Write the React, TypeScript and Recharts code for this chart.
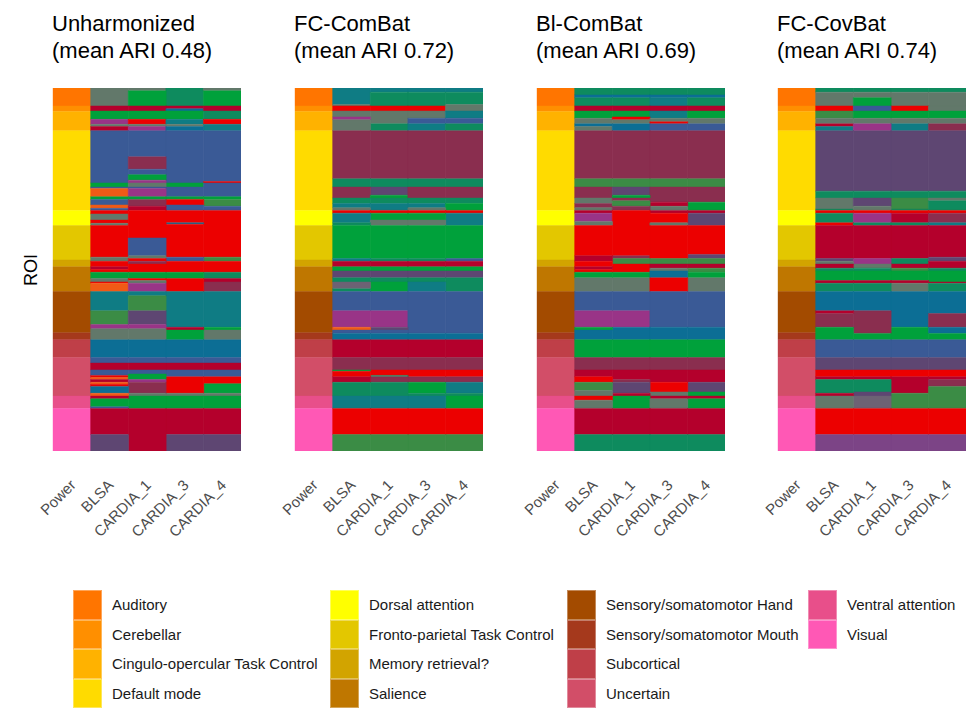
import { Bar, BarChart, Cell, XAxis, YAxis } from "recharts"

// [end ROI index, cluster key] — each segment runs from the previous end
type Seg = [number, string]

const COLUMNS = ["Power", "BLSA", "CARDIA_1", "CARDIA_3", "CARDIA_4"]

const NETWORKS = [
  "Auditory",
  "Cerebellar",
  "Cingulo-opercular Task Control",
  "Default mode",
  "Dorsal attention",
  "Fronto-parietal Task Control",
  "Memory retrieval?",
  "Salience",
  "Sensory/somatomotor Hand",
  "Sensory/somatomotor Mouth",
  "Subcortical",
  "Uncertain",
  "Ventral attention",
  "Visual",
]
const NETWORK_SIZES = [13, 4, 14, 58, 11, 25, 5, 18, 30, 5, 13, 28, 9, 31]
const NETWORK_COLORS = [
  "#FF7500", "#FF8F00", "#FFB200", "#FFDB00", "#FFFF00", "#E3C700", "#D2A400",
  "#BF7700", "#A34B00", "#A5391C", "#BF3F48", "#D24E68", "#E84F8A", "#FF58B5",
]

const CLUSTER: Record<string, string> = {
  G: "#00A13B",
  T: "#0E8B5E",
  OG: "#3B8C45",
  GG: "#62786A",
  MG: "#6D6274",
  M: "#8A2E4F",
  B: "#3A5A96",
  TB: "#0C6E95",
  TE: "#0F7C84",
  R: "#EC0000",
  C: "#B4002C",
  P: "#993487",
  DP: "#5E4672",
  V: "#7C4486",
  O: "#F05A16",
}

const TITLES = [
  ["Unharmonized", "(mean ARI 0.48)"],
  ["FC-ComBat", "(mean ARI 0.72)"],
  ["Bl-ComBat", "(mean ARI 0.69)"],
  ["FC-CovBat", "(mean ARI 0.74)"],
]

// Unharmonized
const unharmBLSA: Seg[] = [
  [13, "GG"], [16.7, "C"], [22.8, "G"], [26.4, "P"], [28, "GG"], [31, "C"], [69, "B"], [72, "G"],
  [73, "B"], [79, "O"], [81, "G"], [85, "B"], [87.5, "O"], [89, "B"], [91.6, "R"], [96, "GG"],
  [98.4, "R"], [100, "GG"], [123, "R"], [126, "GG"], [130, "R"], [132, "C"], [134, "R"],
  [138.5, "G"], [141, "GG"], [142, "R"], [148, "O"], [162, "TE"], [172, "OG"], [175, "P"],
  [183, "GG"], [196, "TB"], [200, "B"], [205, "C"], [209, "B"], [210.5, "R"], [212, "O"],
  [214, "C"], [215.5, "O"], [217, "R"], [222, "TB"], [224, "O"], [226, "C"], [231.8, "G"],
  [233, "B"], [252, "C"], [264, "DP"],
]
const unharmC1: Seg[] = [
  [2, "GG"], [13, "G"], [16.7, "C"], [22.8, "G"], [26.4, "R"], [28, "GG"], [31, "P"], [50, "B"],
  [59, "M"], [63, "B"], [67, "G"], [69, "P"], [72, "GG"], [73, "B"], [79, "P"], [81, "G"],
  [86, "M"], [89, "C"], [109, "R"], [122, "B"], [124, "GG"], [126, "R"], [128, "M"], [134, "R"],
  [138.5, "G"], [140, "R"], [142, "GG"], [148, "P"], [151, "TE"], [162, "OG"], [172, "DP"],
  [175, "P"], [183, "GG"], [196, "TB"], [200, "B"], [205, "C"], [208, "B"], [212, "G"],
  [214, "P"], [222, "M"], [224, "GG"], [233, "G"], [264, "C"],
]
const unharmC3: Seg[] = [
  [13, "T"], [15, "C"], [16.7, "TB"], [22.8, "G"], [26.4, "TE"], [28, "GG"], [31, "TB"], [69, "B"],
  [72, "G"], [79, "B"], [81, "G"], [85, "R"], [89, "B"], [98, "R"], [99, "TB"], [123, "R"],
  [126, "B"], [134, "R"], [138.5, "G"], [148, "R"], [174, "TE"], [176, "C"], [183, "G"],
  [196, "TB"], [200, "B"], [205, "C"], [210, "B"], [222, "R"], [224, "GG"], [233, "G"],
  [252, "C"], [264, "DP"],
]
const unharmC4: Seg[] = [
  [2, "GG"], [13, "G"], [16.7, "C"], [22.8, "T"], [26.4, "R"], [31, "TE"], [68, "B"], [69, "R"],
  [79, "B"], [81, "G"], [86, "OG"], [89, "B"], [123, "R"], [126, "OG"], [134, "R"], [138.5, "T"],
  [141, "C"], [148, "M"], [174, "TE"], [176, "G"], [183, "GG"], [196, "TB"], [200, "B"],
  [205, "C"], [210, "B"], [215, "R"], [222, "G"], [224, "GG"], [233, "G"], [252, "C"], [264, "DP"],
]

// FC-ComBat
const fcComBLSA: Seg[] = [
  [12, "TE"], [13, "GG"], [16.7, "R"], [21, "GG"], [23, "P"], [31, "GG"], [66, "M"], [72, "T"],
  [80, "M"], [84, "T"], [87, "TE"], [89, "GG"], [91, "R"], [98, "TE"], [100, "T"], [124, "G"],
  [126, "TE"], [130, "C"], [133, "G"], [138, "DP"], [141, "T"], [146, "MG"], [148, "T"],
  [162, "B"], [174, "P"], [176, "O"], [178.5, "B"], [183, "TB"], [196, "C"], [205, "M"],
  [206, "G"], [210, "R"], [214, "C"], [224, "T"], [233, "TE"], [252, "R"], [264, "OG"],
]
const fcComC1: Seg[] = [
  [3, "TE"], [13, "T"], [16.7, "R"], [26, "GG"], [31, "T"], [66, "M"], [72, "T"], [78, "DP"],
  [80, "G"], [84, "T"], [89, "TE"], [91, "R"], [96, "G"], [100, "GG"], [124, "G"], [126, "T"],
  [130, "C"], [133, "G"], [138, "DP"], [141, "T"], [148, "G"], [162, "B"], [174, "P"],
  [176, "DP"], [178.5, "B"], [183, "TB"], [196, "C"], [205, "M"], [209, "R"], [210, "T"],
  [214, "M"], [224, "T"], [233, "TE"], [252, "R"], [264, "OG"],
]
const fcComC3: Seg[] = [
  [3, "TE"], [13, "T"], [16.7, "R"], [22, "GG"], [26, "B"], [31, "TE"], [66, "M"], [72, "T"],
  [80, "M"], [84, "T"], [87, "TE"], [89, "GG"], [91, "R"], [96, "G"], [100, "GG"], [124, "G"],
  [126, "T"], [130, "C"], [133, "G"], [138, "DP"], [141, "T"], [148, "TE"], [178.5, "B"],
  [183, "TB"], [196, "C"], [205, "M"], [210, "R"], [214, "M"], [222, "G"], [224, "T"],
  [233, "TE"], [252, "R"], [264, "OG"],
]
const fcComC4: Seg[] = [
  [3, "TE"], [12, "T"], [16.7, "GG"], [22, "TE"], [26, "B"], [31, "T"], [66, "M"], [72, "T"],
  [80, "M"], [84, "T"], [89, "G"], [91, "R"], [100, "TE"], [124, "G"], [126, "B"], [130, "C"],
  [133, "G"], [138, "DP"], [148, "T"], [178.5, "B"], [183, "TB"], [196, "C"], [205, "M"],
  [210, "R"], [214, "M"], [222, "TE"], [224, "T"], [233, "G"], [252, "R"], [264, "OG"],
]

// Bl-ComBat
const blComBLSA: Seg[] = [
  [5, "T"], [7, "TB"], [13, "T"], [16.7, "C"], [22, "G"], [26, "GG"], [28, "TB"], [31, "GG"],
  [66, "M"], [72, "OG"], [80, "M"], [84, "GG"], [87, "M"], [89, "GG"], [91, "C"], [97, "P"],
  [100, "GG"], [122, "R"], [126, "C"], [130, "R"], [132, "C"], [134, "R"], [138, "G"],
  [148, "GG"], [162, "B"], [174, "P"], [176, "G"], [183, "TB"], [196, "G"], [205, "M"],
  [210, "C"], [214, "R"], [220, "OG"], [224, "GG"], [227, "R"], [233, "GG"], [252, "C"], [264, "T"],
]
const blComC1: Seg[] = [
  [5, "T"], [7, "TB"], [13, "T"], [16.7, "C"], [21, "G"], [23, "R"], [26, "GG"], [31, "TB"],
  [66, "M"], [72, "OG"], [78, "DP"], [80, "G"], [82, "M"], [86, "OG"], [89, "M"], [122, "R"],
  [124, "M"], [128, "OG"], [134, "R"], [138, "G"], [148, "GG"], [162, "B"], [174, "P"],
  [183, "TB"], [196, "G"], [205, "M"], [212, "C"], [214, "M"], [222, "DP"], [224, "C"],
  [233, "G"], [252, "C"], [264, "T"],
]
const blComC3: Seg[] = [
  [5, "T"], [7, "TB"], [13, "TE"], [16.7, "C"], [22, "TE"], [24.5, "GG"], [26, "R"], [31, "B"],
  [66, "M"], [72, "OG"], [83, "M"], [86, "C"], [89, "GG"], [91, "C"], [98, "R"], [100, "GG"],
  [124, "R"], [128, "OG"], [131, "C"], [133, "GG"], [138, "TB"], [148, "R"], [174, "B"],
  [183, "TB"], [196, "G"], [205, "M"], [214, "C"], [221, "R"], [224, "GG"], [226, "C"],
  [233, "GG"], [252, "C"], [264, "T"],
]
const blComC4: Seg[] = [
  [5, "T"], [7, "TB"], [13, "T"], [16.7, "C"], [22, "G"], [26, "GG"], [31, "B"], [66, "M"],
  [72, "OG"], [83, "M"], [89, "G"], [91, "C"], [100, "DP"], [121, "R"], [124, "DP"], [128, "OG"],
  [131, "C"], [134, "OG"], [138, "G"], [148, "GG"], [174, "B"], [183, "TB"], [196, "G"],
  [205, "M"], [214, "C"], [221, "DP"], [224, "G"], [226, "C"], [233, "G"], [252, "C"], [264, "T"],
]

// FC-CovBat
const fcCovBLSA: Seg[] = [
  [3, "T"], [13, "GG"], [16.7, "R"], [22, "OG"], [26, "GG"], [28, "C"], [31, "TE"], [75, "DP"],
  [80, "T"], [88, "GG"], [89, "T"], [91, "R"], [98, "T"], [100, "R"], [124, "C"], [126, "DP"],
  [128, "GG"], [131, "C"], [133, "T"], [140, "G"], [142, "C"], [148, "T"], [162, "TB"],
  [164, "C"], [174, "M"], [183, "G"], [196, "B"], [205, "DP"], [210, "R"], [212, "C"],
  [222, "T"], [224, "C"], [233, "GG"], [252, "R"], [264, "V"],
]
const fcCovC1: Seg[] = [
  [3, "T"], [7, "GG"], [13, "G"], [16.7, "B"], [22, "G"], [26, "GG"], [31, "P"], [75, "DP"],
  [80, "T"], [86, "DP"], [89, "GG"], [91, "R"], [98, "P"], [100, "T"], [124, "C"], [128, "P"],
  [131, "GG"], [133, "T"], [140, "G"], [142, "C"], [148, "T"], [162, "TB"], [178.5, "M"],
  [183, "G"], [196, "B"], [205, "DP"], [210, "R"], [212, "C"], [221, "T"], [224, "DP"],
  [233, "MG"], [252, "R"], [264, "V"],
]
const fcCovC3: Seg[] = [
  [3, "T"], [13, "GG"], [16.7, "R"], [22, "G"], [26, "GG"], [31, "TE"], [75, "DP"], [80, "T"],
  [88, "OG"], [89, "T"], [91, "R"], [98, "C"], [100, "T"], [124, "C"], [128, "T"], [131, "C"],
  [133, "OG"], [140, "G"], [142, "C"], [148, "GG"], [174, "TB"], [183, "G"], [196, "B"],
  [205, "DP"], [210, "R"], [222, "C"], [233, "OG"], [252, "R"], [264, "V"],
]
const fcCovC4: Seg[] = [
  [3, "T"], [13, "GG"], [16.7, "GG"], [22, "G"], [26, "GG"], [31, "M"], [75, "DP"], [80, "T"],
  [82, "GG"], [89, "T"], [91, "R"], [98, "M"], [100, "TE"], [123, "C"], [126, "DP"], [131, "C"],
  [133, "T"], [141, "G"], [142, "C"], [148, "T"], [164, "TB"], [174, "M"], [178.5, "TB"],
  [183, "G"], [196, "B"], [205, "DP"], [210, "R"], [212, "C"], [217, "M"], [233, "OG"],
  [252, "R"], [264, "V"],
]

const PANELS: Seg[][][] = [
  [unharmBLSA, unharmC1, unharmC3, unharmC4],
  [fcComBLSA, fcComC1, fcComC3, fcComC4],
  [blComBLSA, blComC1, blComC3, blComC4],
  [fcCovBLSA, fcCovC1, fcCovC3, fcCovC4],
]

const TOTAL = NETWORK_SIZES.reduce((a, b) => a + b, 0)
const powerSegs: Seg[] = NETWORK_SIZES.map((_, i) => [
  NETWORK_SIZES.slice(0, i + 1).reduce((a, b) => a + b, 0),
  NETWORK_COLORS[i],
])

const FONT = "'Liberation Sans', Arial, Helvetica, sans-serif"
const PANEL_LEFT = [53, 295, 537, 778]
const PLOT_TOP = 88
const PLOT_W = 188
const PLOT_H = 363
const PAD_L = 30

function SlantTick({ x, y, payload }: any) {
  const tx = x + 5
  const ty = y + 27
  return (
    <text
      x={tx}
      y={ty}
      transform={`rotate(-45 ${tx} ${ty})`}
      textAnchor="end"
      fontSize={15}
      fontFamily={FONT}
      fill="#4d4d4d"
    >
      {payload.value}
    </text>
  )
}

function Heatmap({ cols }: { cols: Seg[][] }) {
  const all = [powerSegs, ...cols]
  const rows = all.map((segs, j) => {
    const row: Record<string, string | number> = { name: COLUMNS[j] }
    let prev = 0
    segs.forEach(([end], i) => {
      row[`s${i}`] = end - prev
      prev = end
    })
    return row
  })
  const fills = all.map((segs) => segs.map(([, key]) => CLUSTER[key] ?? key))
  const maxSegs = Math.max(...all.map((s) => s.length))
  const layers = Array.from({ length: maxSegs }, (_, i) => i)

  return (
    <BarChart
      width={PLOT_W + PAD_L}
      height={PLOT_H + 110}
      data={rows}
      margin={{ top: 0, right: 0, bottom: 0, left: PAD_L }}
      barCategoryGap={0}
      barGap={0}
    >
      <XAxis
        dataKey="name"
        interval={0}
        height={110}
        tickLine={false}
        axisLine={false}
        tick={<SlantTick />}
      />
      <YAxis hide type="number" domain={[0, TOTAL]} reversed allowDataOverflow />
      {layers.map((i) => (
        <Bar key={i} dataKey={`s${i}`} stackId="roi" isAnimationActive={false}>
          {rows.map((_, j) => (
            <Cell
              key={j}
              fill={fills[j][i] ?? "none"}
              stroke={fills[j][i] ?? "none"}
              strokeWidth={0.4}
            />
          ))}
        </Bar>
      ))}
    </BarChart>
  )
}

const LEGEND_COLS = [
  [0, 1, 2, 3],
  [4, 5, 6, 7],
  [8, 9, 10, 11],
  [12, 13],
]
const LEGEND_X = [73, 330, 567, 808]

export default function App() {
  return (
    <div
      style={{
        position: "absolute",
        left: 0,
        top: 0,
        width: 974,
        height: 714,
        background: "#fff",
        fontFamily: FONT,
        overflow: "hidden",
      }}
    >
      {TITLES.map(([a, b], i) => (
        <div
          key={a}
          style={{
            position: "absolute",
            left: PANEL_LEFT[i] - 1,
            top: 10,
            fontSize: 22,
            lineHeight: "27px",
            color: "#000",
            whiteSpace: "nowrap",
          }}
        >
          {a}
          <br />
          {b}
        </div>
      ))}

      <div
        style={{
          position: "absolute",
          left: 31,
          top: PLOT_TOP + PLOT_H / 2,
          transform: "translate(-50%, -50%) rotate(-90deg)",
          fontSize: 18,
          color: "#000",
        }}
      >
        ROI
      </div>

      {PANELS.map((cols, i) => (
        <div
          key={i}
          style={{ position: "absolute", left: PANEL_LEFT[i] - PAD_L, top: PLOT_TOP }}
        >
          <Heatmap cols={cols} />
        </div>
      ))}

      {LEGEND_COLS.map((idxs, c) =>
        idxs.map((n, r) => (
          <div
            key={n}
            style={{
              position: "absolute",
              left: LEGEND_X[c],
              top: 590 + r * 29.5,
              height: 29.5,
              display: "flex",
              alignItems: "center",
            }}
          >
            <div
              style={{
                width: 29,
                height: 29.5,
                background: NETWORK_COLORS[n],
                boxSizing: "border-box",
                border: "0.5px solid rgba(255,255,255,0.35)",
              }}
            />
            <span
              style={{
                marginLeft: 10,
                fontSize: 15,
                color: "#1a1a1a",
                whiteSpace: "nowrap",
              }}
            >
              {NETWORKS[n]}
            </span>
          </div>
        )),
      )}
    </div>
  )
}
